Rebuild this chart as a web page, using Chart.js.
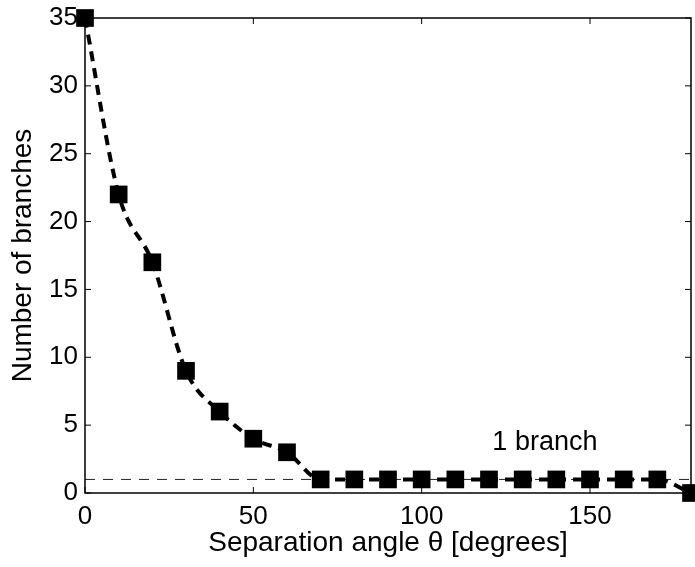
<!DOCTYPE html>
<html>
<head>
<meta charset="utf-8">
<script src="https://cdn.jsdelivr.net/npm/chart.js@4.4.0/dist/chart.umd.min.js"></script>
<style>
  html, body { margin: 0; padding: 0; background: #fff; }
  #wrap { width: 695px; height: 567px; }
</style>
</head>
<body>
<div id="wrap"><canvas id="branches-chart" width="695" height="567"></canvas></div>
<script>
// separation angle (degrees) and branch counts
const angles = [0, 10, 20, 30, 40, 50, 60, 70, 80, 90, 100, 110, 120, 130, 140, 150, 160, 170, 180];
const branches = [35, 22, 17, 9, 6, 4, 3, 1, 1, 1, 1, 1, 1, 1, 1, 1, 1, 1, 0];
const refLevel = 1;
const refLabel = "1 branch";
const refLabelPos = [121, 3.75];
const xTicks = [0, 50, 100, 150];
const yTicks = [0, 5, 10, 15, 20, 25, 30, 35];

const FONT = "'Liberation Sans', Arial, Helvetica, sans-serif";

// box around the plot with inward tick marks on all four sides, plus the annotation
const frame = {
    id: "frame",
    afterDatasetsDraw(chart) {
        const { ctx, chartArea: a, scales } = chart;
        const tl = 6;
        ctx.save();
        ctx.strokeStyle = "#000";
        ctx.lineWidth = 1.5;
        ctx.strokeRect(a.left, a.top, a.right - a.left, a.bottom - a.top);
        ctx.beginPath();
        xTicks.forEach(v => {
            const px = scales.x.getPixelForValue(v);
            ctx.moveTo(px, a.bottom); ctx.lineTo(px, a.bottom - tl);
            ctx.moveTo(px, a.top); ctx.lineTo(px, a.top + tl);
        });
        yTicks.forEach(v => {
            const py = scales.y.getPixelForValue(v);
            ctx.moveTo(a.left, py); ctx.lineTo(a.left + tl, py);
            ctx.moveTo(a.right, py); ctx.lineTo(a.right - tl, py);
        });
        ctx.lineWidth = 1;
        ctx.stroke();

        ctx.fillStyle = "#000";
        ctx.font = "27px " + FONT;
        ctx.textAlign = "left";
        ctx.textBaseline = "middle";
        ctx.fillText(refLabel, scales.x.getPixelForValue(refLabelPos[0]), scales.y.getPixelForValue(refLabelPos[1]));
        ctx.restore();
    }
};

new Chart(document.getElementById("branches-chart").getContext("2d"), {
    type: "line",
    data: {
        datasets: [
            {
                data: angles.map((a, i) => ({ x: a, y: branches[i] })),
                borderColor: "#000",
                backgroundColor: "#000",
                borderWidth: 4,
                borderDash: [10, 7],
                cubicInterpolationMode: "monotone",
                pointStyle: "rect",
                pointRadius: 12.5,
                pointBorderWidth: 0,
                pointBackgroundColor: "#000",
                clip: false,
                order: 0
            },
            {
                data: [{ x: 0, y: refLevel }, { x: 180, y: refLevel }],
                borderColor: "#222",
                borderWidth: 1,
                borderDash: [10, 8],
                pointRadius: 0,
                order: 1
            }
        ]
    },
    options: {
        responsive: false,
        animation: false,
        layout: { autoPadding: false, padding: { top: 18, right: 4, left: 0, bottom: 0 } },
        plugins: { legend: { display: false }, tooltip: { enabled: false } },
        scales: {
            x: {
                type: "linear",
                min: 0,
                max: 180,
                afterBuildTicks: s => { s.ticks = xTicks.map(v => ({ value: v })); },
                afterFit: s => { s.height = 74; s.paddingLeft = 0; s.paddingRight = 0; },
                grid: { display: false, drawTicks: false },
                border: { display: false },
                ticks: { color: "#000", padding: 8, font: { family: FONT, size: 26 } },
                title: {
                    display: true,
                    text: "Separation angle θ [degrees]",
                    color: "#000",
                    padding: { top: 0, bottom: 7 },
                    font: { family: FONT, size: 28 }
                }
            },
            y: {
                min: 0,
                max: 35,
                afterBuildTicks: s => { s.ticks = yTicks.map(v => ({ value: v })); },
                afterFit: s => { s.width = 85; s.paddingTop = 0; s.paddingBottom = 0; },
                grid: { display: false, drawTicks: false },
                border: { display: false },
                ticks: { color: "#000", padding: 7, font: { family: FONT, size: 26 } },
                title: {
                    display: true,
                    text: "Number of branches",
                    color: "#000",
                    padding: { top: 6, bottom: 0 },
                    font: { family: FONT, size: 28 }
                }
            }
        }
    },
    plugins: [frame]
});
</script>
</body>
</html>
